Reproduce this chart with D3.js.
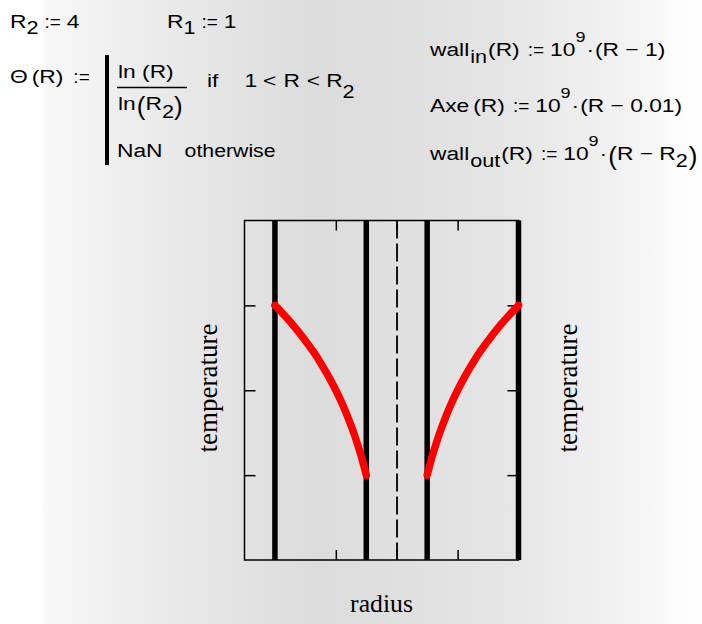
<!DOCTYPE html>
<html><head><meta charset="utf-8">
<script src="https://cdn.jsdelivr.net/npm/d3@7"></script>
<style>html,body{margin:0;padding:0;background:#fff;} svg{display:block;}</style>
</head><body><svg id="sheet" width="702" height="624"></svg>
<script>
// Temperature across a pipe wall: Θ(R) = ln(R)/ln(R2) between R1 and R2
const R1 = 1, R2 = 4;
const radius = [1, 1.05, 1.1, 1.2, 1.3, 1.4, 1.5, 1.75, 2, 2.25, 2.5, 2.75, 3, 3.25, 3.5, 3.75, 4];
const theta  = [0, 0.035, 0.069, 0.132, 0.189, 0.243, 0.292, 0.404, 0.5, 0.585, 0.661, 0.730, 0.792, 0.850, 0.904, 0.953, 1];
const walls = [-4, -1, 1, 4];          // wall_out / wall_in on both sides of the axis
const axe = 0.01;                       // symmetry axis
const radiusTicks = [-4, -2, 0, 2, 4];
const temperatureTicks = [0, 0.5, 1];
const radiusDomain = [-5, 4];
const temperatureDomain = [-0.5, 1.5];

const svg = d3.select("#sheet");
const SANS = "'Liberation Sans', Arial, sans-serif";
const SERIF = "'Liberation Serif', 'Times New Roman', serif";
const SX = 1.2;
const F = 19, S = 18, P = 15, BIG = 26;

// page background
const defs = svg.append("defs");
const grad = defs.append("linearGradient").attr("id", "page").attr("x1", 0).attr("x2", 1).attr("y1", 0).attr("y2", 0);
[[0, "#ffffff"], [0.055, "#ffffff"], [0.065, "#f8f8f8"], [0.2, "#ececec"], [0.45, "#dcdcdc"],
 [0.7, "#e4e4e4"], [0.9, "#f3f3f3"], [0.96, "#fbfbfb"], [1, "#ffffff"]]
  .forEach(([o, c]) => grad.append("stop").attr("offset", o).attr("stop-color", c));
svg.append("rect").attr("width", 702).attr("height", 624).attr("fill", "url(#page)");

// ---------- worksheet definitions ----------
// one piece of math text; returns its drawn width
function put(x, y, str, size, sx = SX) {
  const t = svg.append("text")
    .attr("transform", `translate(${x},${y}) scale(${sx},1)`)
    .attr("font-family", SANS).attr("font-size", size).attr("fill", "#000")
    .text(str);
  return t.node().getComputedTextLength() * sx;
}
// a row of pieces set one after another: [text, size, baselineShift, gapAfter, scaleX]
function row(x, y, pieces) {
  pieces.forEach(([s, size, dy = 0, gap = 0, sx = SX]) => {
    x += put(x, y + dy, s, size, sx) + gap;
  });
}

row(10, 28, [["R", F], ["2", S, 5.5, 6], [":=", F, 0, 6, 1], ["4", F]]);
row(167, 28, [["R", F], ["1", S, 6, 6], [":=", F, 0, 6, 1], ["1", F]]);

row(10, 83, [["Θ", F, 0, 4], ["(R)", F, 0, 10], [":=", F, 0, 0, 1]]);
svg.append("rect").attr("x", 105).attr("y", 55).attr("width", 4).attr("height", 110).attr("fill", "#000");
put(118, 77.5, "ln (R)", F);
svg.append("line").attr("x1", 117).attr("x2", 187).attr("y1", 87.5).attr("y2", 87.5)
  .attr("stroke", "#000").attr("stroke-width", 1.5);
row(118, 110, [["ln", F, 0, 1], ["(", BIG, 5, 0, 1], ["R", F], ["2", S, 8, 0], [")", BIG, 5, 0, 1]]);
row(207, 87, [["if", F, 0, 26], ["1", F, 0, 6], ["<", F, 0, 7], ["R", F, 0, 7], ["<", F, 0, 6], ["R", F], ["2", S, 11]]);
row(117, 157, [["NaN", F, 0, 22], ["otherwise", F, 0, 0, 1.12]]);

row(430, 56, [["wall", F, 0, 1], ["in", S, 7, 1], ["(R)", F, 0, 8], [":=", F, 0, 6, 1],
              ["10", F], ["9", P, -14, 1], ["·", F, 0, 1], ["(R − 1)", F]]);
row(430, 112, [["Axe", F, 0, 4], ["(R)", F, 0, 8], [":=", F, 0, 6, 1],
               ["10", F], ["9", P, -14, 1], ["·", F, 0, 1], ["(R − 0.01)", F]]);
row(430, 160, [["wall", F, 0, 1], ["out", S, 7, 1], ["(R)", F, 0, 8], [":=", F, 0, 6, 1],
               ["10", F], ["9", P, -14, 1], ["·", F, 0, 1], ["(", BIG, 5, 0, 1],
               ["R − R", F], ["2", S, 7, 1], [")", BIG, 5, 0, 1]]);

// ---------- plot ----------
const x = d3.scaleLinear().domain(radiusDomain).range([244.5, 518.5]);
const y = d3.scaleLinear().domain(temperatureDomain).range([560, 220.5]);

const plot = svg.append("g");

function styleAxis(g) {
  g.select(".domain").remove();
  g.selectAll(".tick line").attr("stroke", "#000").attr("stroke-width", 1.5);
  g.selectAll(".tick text").remove();
}
plot.append("g").attr("transform", `translate(0,${y(temperatureDomain[0])})`)
  .call(d3.axisBottom(x).tickValues(radiusTicks).tickSize(-10).tickFormat("")).call(styleAxis);
plot.append("g").attr("transform", `translate(0,${y(temperatureDomain[1])})`)
  .call(d3.axisTop(x).tickValues(radiusTicks).tickSize(-10).tickFormat("")).call(styleAxis);
plot.append("g").attr("transform", `translate(${x(radiusDomain[0])},0)`)
  .call(d3.axisLeft(y).tickValues(temperatureTicks).tickSize(-11).tickFormat("")).call(styleAxis);
plot.append("g").attr("transform", `translate(${x(radiusDomain[1])},0)`)
  .call(d3.axisRight(y).tickValues(temperatureTicks).tickSize(-11).tickFormat("")).call(styleAxis);

plot.append("rect")
  .attr("x", x(radiusDomain[0])).attr("y", y(temperatureDomain[1]))
  .attr("width", x(radiusDomain[1]) - x(radiusDomain[0]))
  .attr("height", y(temperatureDomain[0]) - y(temperatureDomain[1]))
  .attr("fill", "none").attr("stroke", "#000").attr("stroke-width", 1.5);

// pipe walls
plot.selectAll("line.wall").data(walls).join("line").attr("class", "wall")
  .attr("x1", d => x(d)).attr("x2", d => x(d))
  .attr("y1", y(temperatureDomain[1])).attr("y2", y(temperatureDomain[0]))
  .attr("stroke", "#000").attr("stroke-width", 5.5);

// axis of symmetry
plot.append("line")
  .attr("x1", x(axe)).attr("x2", x(axe))
  .attr("y1", y(temperatureDomain[1])).attr("y2", y(temperatureDomain[0]))
  .attr("stroke", "#000").attr("stroke-width", 1.8).attr("stroke-dasharray", "18,5");

// temperature profile, mirrored about the axis
const right = radius.map((r, i) => ({r, t: theta[i]}));
const left = radius.map((r, i) => ({r: -r, t: theta[i]})).reverse();
const line = d3.line().x(d => x(d.r)).y(d => y(d.t)).curve(d3.curveMonotoneX);
plot.selectAll("path.profile").data([left, right]).join("path").attr("class", "profile")
  .attr("d", line).attr("fill", "none").attr("stroke", "#ff0000")
  .attr("stroke-width", 7.5).attr("stroke-linecap", "round").attr("stroke-linejoin", "round");

// axis labels
svg.append("text").attr("transform", "translate(217,388) rotate(-90)")
  .attr("text-anchor", "middle").attr("font-family", SERIF).attr("font-size", 27).text("temperature");
svg.append("text").attr("transform", "translate(577,388) rotate(-90)")
  .attr("text-anchor", "middle").attr("font-family", SERIF).attr("font-size", 27).text("temperature");
svg.append("text").attr("transform", `translate(${x((radiusDomain[0] + radiusDomain[1]) / 2)},612) scale(1.05,1)`)
  .attr("text-anchor", "middle").attr("font-family", SERIF).attr("font-size", 24.5).text("radius");
</script>
</body></html>
